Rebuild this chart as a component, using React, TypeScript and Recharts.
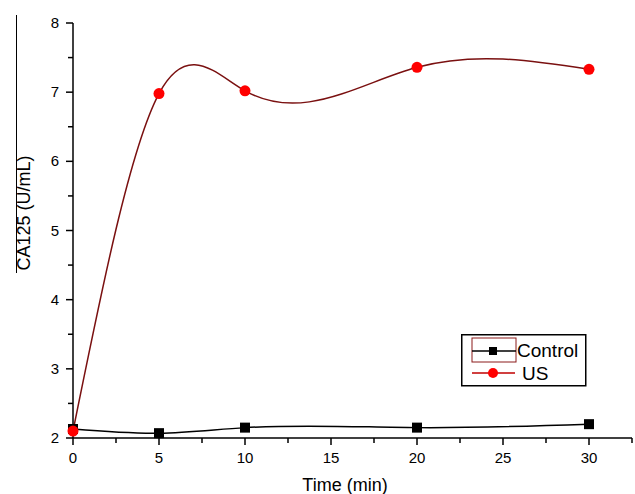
import React from "react";
import { LineChart, Line, XAxis, YAxis } from "recharts";

const times = [0, 5, 10, 20, 30];
const controlValues = [2.13, 2.07, 2.15, 2.15, 2.2];
const usValues = [2.1, 6.98, 7.02, 7.36, 7.33];
const xTicks = [0, 2.5, 5, 7.5, 10, 12.5, 15, 17.5, 20, 22.5, 25, 27.5, 30, 32.5];
const yTicks = [2, 2.5, 3, 3.5, 4, 4.5, 5, 5.5, 6, 6.5, 7, 7.5, 8];
const seriesNames = ["Control", "US"];

const data = times.map((t, i) => ({ t, control: controlValues[i], us: usValues[i] }));

const FONT = "Arial, 'Liberation Sans', sans-serif";

// Natural cubic spline parameterised by x (like Origin's spline connection)
function splineX(context: any) {
  let xs: number[] = [];
  let ys: number[] = [];
  return {
    areaStart() {},
    areaEnd() {},
    lineStart() {
      xs = [];
      ys = [];
    },
    point(x: number, y: number) {
      xs.push(+x);
      ys.push(+y);
    },
    lineEnd() {
      const n = xs.length;
      if (n === 0) return;
      context.moveTo(xs[0], ys[0]);
      if (n === 1) return;
      if (n === 2) {
        context.lineTo(xs[1], ys[1]);
        return;
      }
      const h: number[] = [];
      for (let i = 0; i < n - 1; i++) h.push(xs[i + 1] - xs[i]);
      const m = n - 2;
      const a: number[] = [], b: number[] = [], c: number[] = [], d: number[] = [];
      for (let k = 0; k < m; k++) {
        const i = k + 1;
        a.push(h[i - 1]);
        b.push(2 * (h[i - 1] + h[i]));
        c.push(h[i]);
        d.push(6 * ((ys[i + 1] - ys[i]) / h[i] - (ys[i] - ys[i - 1]) / h[i - 1]));
      }
      for (let k = 1; k < m; k++) {
        const w = a[k] / b[k - 1];
        b[k] -= w * c[k - 1];
        d[k] -= w * d[k - 1];
      }
      const Mi: number[] = new Array(m).fill(0);
      for (let k = m - 1; k >= 0; k--) {
        Mi[k] = (d[k] - (k < m - 1 ? c[k] * Mi[k + 1] : 0)) / b[k];
      }
      const M = [0, ...Mi, 0];
      for (let i = 0; i < n - 1; i++) {
        const hh = h[i];
        const s = (ys[i + 1] - ys[i]) / hh;
        const d0 = s - (hh * (2 * M[i] + M[i + 1])) / 6;
        const d1 = s + (hh * (M[i] + 2 * M[i + 1])) / 6;
        context.bezierCurveTo(
          xs[i] + hh / 3,
          ys[i] + (d0 * hh) / 3,
          xs[i + 1] - hh / 3,
          ys[i + 1] - (d1 * hh) / 3,
          xs[i + 1],
          ys[i + 1]
        );
      }
    },
  };
}

const XTick = (props: any) => {
  const { x, y, payload } = props;
  const v = payload.value;
  const major = v % 5 === 0;
  return (
    <g>
      <line x1={x} x2={x} y1={y} y2={y + (major ? 7 : 5)} stroke="#000" strokeWidth={1.5} />
      {major && v <= 30 && (
        <text x={x} y={y + 25} textAnchor="middle" fontSize={15} fontFamily={FONT} fill="#000">
          {v}
        </text>
      )}
    </g>
  );
};

const YTick = (props: any) => {
  const { x, y, payload } = props;
  const v = payload.value;
  const major = Number.isInteger(v);
  return (
    <g>
      <line x1={x - (major ? 7 : 5)} x2={x} y1={y} y2={y} stroke="#000" strokeWidth={1.5} />
      {major && (
        <text x={x - 14} y={y + 5} textAnchor="end" fontSize={15} fontFamily={FONT} fill="#000">
          {v}
        </text>
      )}
    </g>
  );
};

const SquareDot = (props: any) => {
  const { cx, cy } = props;
  if (cx == null || cy == null) return null;
  return <rect x={cx - 5} y={cy - 5} width={10} height={10} fill="#000" />;
};

const RoundDot = (props: any) => {
  const { cx, cy } = props;
  if (cx == null || cy == null) return null;
  return <circle cx={cx} cy={cy} r={5.5} fill="#ff0000" />;
};

const LegendBox = () => (
  <svg width={126} height={53} style={{ display: "block" }}>
    <rect x={0.75} y={0.75} width={124} height={51} fill="#fff" stroke="#000" strokeWidth={1.5} />
    <rect x={11} y={4} width={44} height={24} fill="none" stroke="#8b1a1a" strokeWidth={1} />
    <line x1={11} x2={55} y1={17} y2={17} stroke="#000" strokeWidth={1.5} />
    <rect x={28} y={13} width={8} height={8} fill="#000" />
    <text x={56} y={23} fontSize={19} fontFamily={FONT} fill="#000">{seriesNames[0]}</text>
    <line x1={11} x2={54} y1={39} y2={39} stroke="#c00000" strokeWidth={1.5} />
    <circle cx={32} cy={39} r={5} fill="#ff0000" />
    <text x={61} y={46} fontSize={19} fontFamily={FONT} fill="#000">{seriesNames[1]}</text>
  </svg>
);

export default function App() {
  return (
    <div style={{ position: "absolute", left: 0, top: 0, width: 635, height: 494, background: "#fff" }}>
      <div style={{ position: "absolute", left: 16, top: 15, width: 1, height: 258, background: "#000" }} />
      <LineChart
        width={635}
        height={494}
        data={data}
        margin={{ top: 23, right: 3, bottom: 0, left: 0 }}
      >
        <XAxis
          dataKey="t"
          type="number"
          domain={[0, 32.5]}
          ticks={xTicks}
          interval={0}
          tickSize={0}
          tickMargin={0}
          tickLine={false}
          tick={<XTick />}
          height={56}
          stroke="#000"
          strokeWidth={1.5}
          label={{
            content: () => (
              <text x={345} y={491} textAnchor="middle" fontSize={18} fontFamily={FONT} fill="#000">
                Time (min)
              </text>
            ),
          }}
        />
        <YAxis
          type="number"
          domain={[2, 8]}
          ticks={yTicks}
          interval={0}
          width={73}
          tickSize={0}
          tickMargin={0}
          tickLine={false}
          tick={<YTick />}
          stroke="#000"
          strokeWidth={1.5}
          label={{
            content: () => (
              <text
                x={30}
                y={213}
                textAnchor="middle"
                fontSize={18}
                fontFamily={FONT}
                fill="#000"
                transform="rotate(-90 30 213)"
              >
                CA125 (U/mL)
              </text>
            ),
          }}
        />
        <Line
          type={splineX as any}
          dataKey="control"
          name={seriesNames[0]}
          stroke="#000"
          strokeWidth={1.5}
          dot={<SquareDot />}
          isAnimationActive={false}
        />
        <Line
          type={splineX as any}
          dataKey="us"
          name={seriesNames[1]}
          stroke="#7a1010"
          strokeWidth={1.5}
          dot={<RoundDot />}
          isAnimationActive={false}
        />
      </LineChart>
      <div style={{ position: "absolute", left: 461, top: 334 }}>
        <LegendBox />
      </div>
    </div>
  );
}
